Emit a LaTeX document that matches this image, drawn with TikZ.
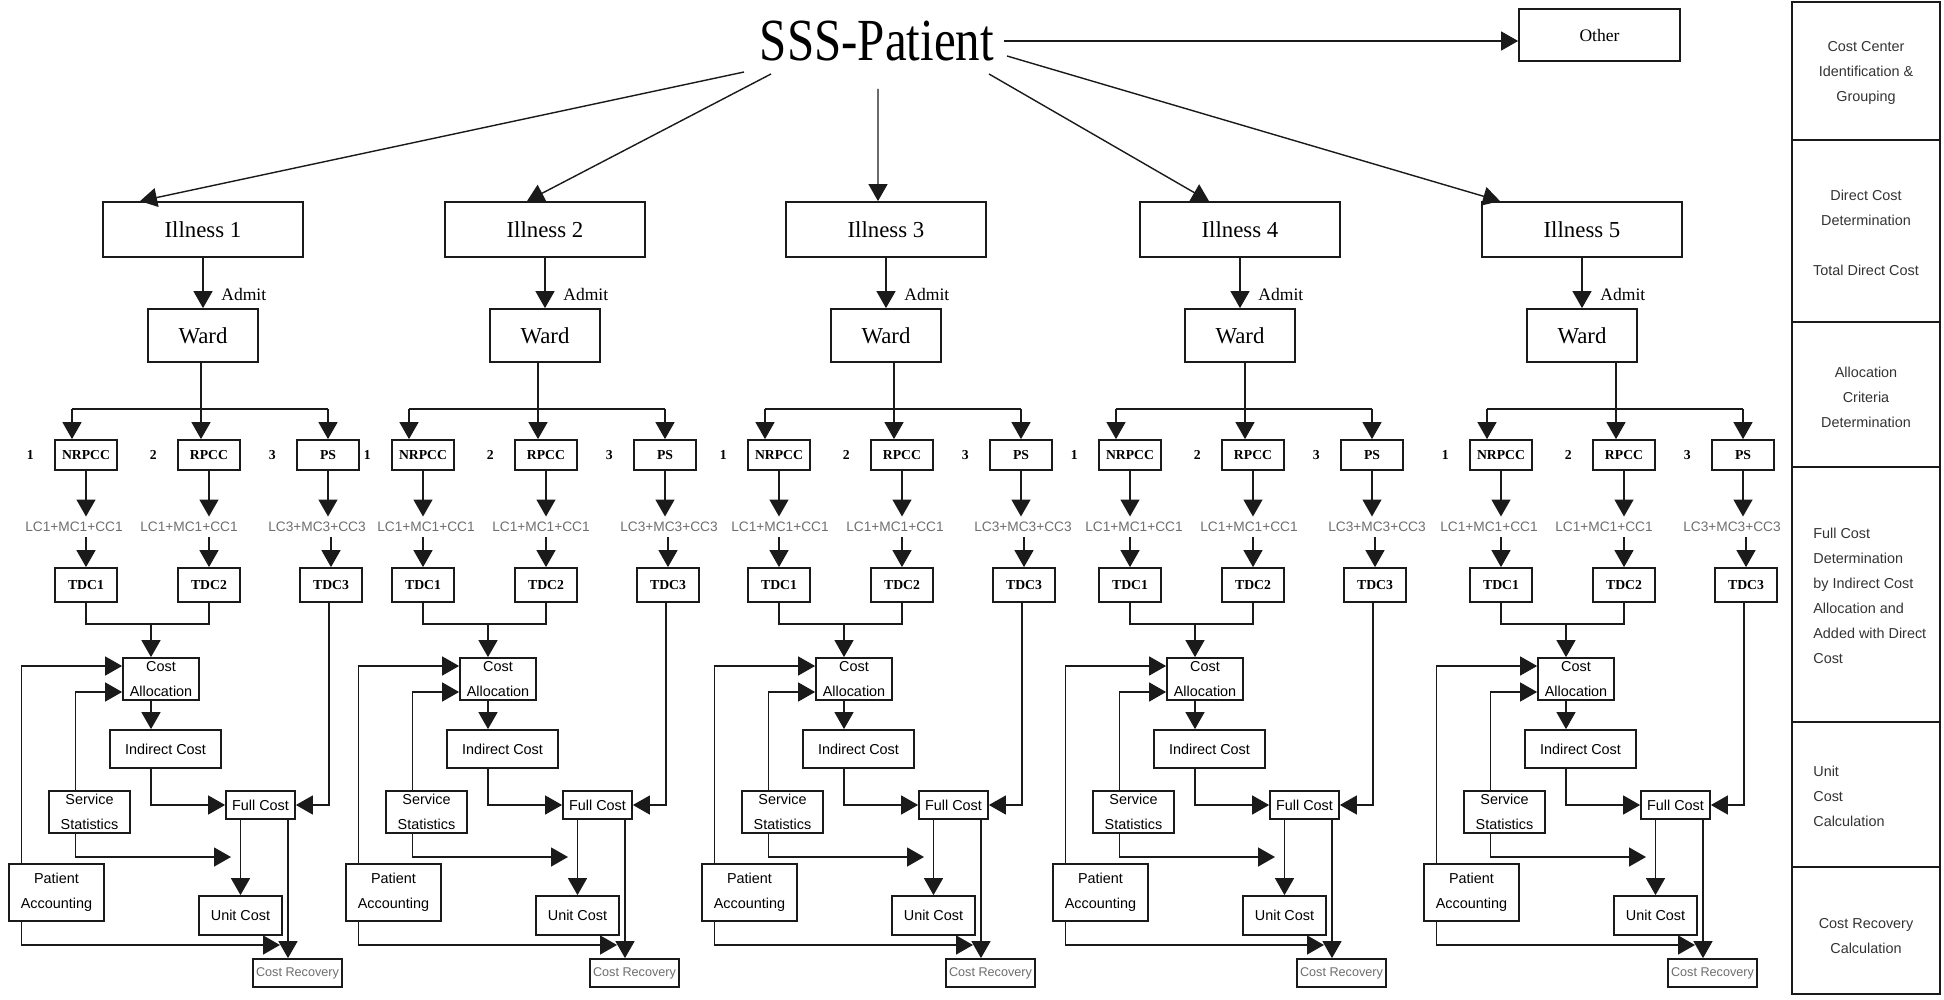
\documentclass[tikz,border=0pt]{standalone}
\usepackage{fontspec}
\setmainfont{Liberation Serif}
\setsansfont{Liberation Sans}
\usepackage{tikz}
\usetikzlibrary{positioning, arrows.meta, calc}
\definecolor{ink}{HTML}{1A1A1A}
\definecolor{faint}{HTML}{6E6E6E}
\definecolor{legendink}{HTML}{333333}
\tikzset{
  illbox/.style   = {rectangle, draw=ink, line width=1pt, fill=white,
                     minimum width=4.0cm, minimum height=1.1cm,
                     font=\fontsize{13}{15}\selectfont},
  wardbox/.style  = {rectangle, draw=ink, line width=1pt, fill=white,
                     minimum width=2.2cm, minimum height=1.06cm,
                     font=\fontsize{13}{15}\selectfont},
  ccbox/.style    = {rectangle, draw=ink, line width=1pt, fill=white,
                     minimum width=1.24cm, minimum height=0.6cm, inner sep=0pt,
                     font=\fontsize{7.8}{9}\selectfont\bfseries},
  tdcbox/.style   = {ccbox, minimum height=0.68cm},
  costbox/.style  = {rectangle, draw=ink, line width=1pt, fill=white,
                     inner sep=0pt, align=center,
                     font=\sffamily\fontsize{8.2}{14}\selectfont},
  cclabel/.style  = {inner sep=0pt, font=\fontsize{7.8}{9}\selectfont\bfseries},
  admitlab/.style = {inner sep=0pt, font=\fontsize{10}{12}\selectfont},
  fmla/.style     = {inner xsep=1pt, inner ysep=3pt, text=faint,
                     font=\sffamily\fontsize{7.8}{9}\selectfont},
  legtxt/.style   = {inner sep=0pt, text=legendink,
                     font=\sffamily\fontsize{8.2}{14.2}\selectfont},
  arr/.style      = {-{Triangle[length=0.34cm,width=0.38cm]}, line width=0.8pt, draw=ink},
  link/.style     = {line width=0.8pt, draw=ink},
}

\begin{document}
\begin{tikzpicture}[x=0.02cm, y=-0.02cm]
  \useasboundingbox (0,0) rectangle (1944,1000);

  % top: patient group
  \node[inner sep=0pt, font=\fontsize{34}{36}\selectfont] (sss) at (877,41)
       {\scalebox{0.82}[1]{SSS-Patient}};
  \node[rectangle, draw=ink, line width=1pt, minimum width=3.22cm, minimum height=1.04cm,
        font=\fontsize{10}{12}\selectfont] (other) at (1599.5,35) {Other};
  \draw[arr] ([xshift=0.2cm]sss.east) -- (sss.east -| other.west);

  % one column per illness
  \foreach \col/\lx/\ux/\fo in {1/86/203/-12, 2/423/545/3, 3/779/886/1, 4/1130/1240/4, 5/1501/1582/-12}{
    % illness and ward
    \node[illbox] (ill\col) at (\ux,229.5) {Illness \col};
    \node[wardbox] (wd\col) at (\ux,335.5) {Ward};
    \node[admitlab, anchor=west] (ad\col) at (\ux+18,294) {Admit};
    \draw[arr] (ill\col.south) -- (wd\col.north);

    % cost centres
    \node[ccbox] (nr\col) at (\lx,455) {NRPCC};
    \node[ccbox] (rp\col) at (\lx+123,455) {RPCC};
    \node[ccbox] (ps\col) at (\lx+242,455) {PS};
    \node[cclabel, left=0.4cm of nr\col] (na\col) {1};
    \node[cclabel, left=0.4cm of rp\col] (nb\col) {2};
    \node[cclabel, left=0.4cm of ps\col] (nc\col) {3};
    \coordinate (bar\col) at (\lx,409);
    \draw[link] ([xshift=-0.28cm]nr\col.north |- bar\col) -- (ps\col.north |- bar\col);
    \draw[arr] ([xshift=-0.28cm]nr\col.north |- bar\col) -- ([xshift=-0.28cm]nr\col.north);
    \draw[arr] ([xshift=-0.16cm]rp\col.north |- wd\col.south) -- ([xshift=-0.16cm]rp\col.north);
    \draw[arr] (ps\col.north |- bar\col) -- (ps\col.north);

    % direct cost
    \node[fmla] (fa\col) at (\lx+\fo,527) {LC1+MC1+CC1};
    \node[fmla] (fb\col) at (\lx+115+\fo,527) {LC1+MC1+CC1};
    \node[fmla] (fc3\col) at (\lx+243+\fo,527) {LC3+MC3+CC3};
    \node[tdcbox] (td1\col) at (\lx,585) {TDC1};
    \node[tdcbox] (td2\col) at (\lx+123,585) {TDC2};
    \node[tdcbox] (td3\col) at (\lx+245,585) {TDC3};
    \draw[arr] (nr\col.south) -- (nr\col.south |- fa\col.north);
    \draw[arr] (rp\col.south) -- (rp\col.south |- fb\col.north);
    \draw[arr] (ps\col.south) -- (ps\col.south |- fc3\col.north);
    \draw[arr] (td1\col.north |- fa\col.south) -- (td1\col.north);
    \draw[arr] (td2\col.north |- fb\col.south) -- (td2\col.north);
    \draw[arr] (td3\col.north |- fc3\col.south) -- (td3\col.north);

    % allocation and full cost
    \coordinate (jn\col) at (\lx+65,624);
    \node[costbox, minimum width=1.52cm, minimum height=0.84cm] (ca\col) at (\lx+75,679) {Cost\\Allocation};
    \node[costbox, minimum width=2.22cm, minimum height=0.76cm] (ic\col) at (\lx+79.5,749) {Indirect Cost};
    \node[costbox, minimum width=1.38cm, minimum height=0.56cm] (fc\col) at (\lx+174.5,805) {Full Cost};
    \node[costbox, minimum width=1.62cm, minimum height=0.84cm] (ss\col) at (\lx+3.5,812) {Service\\Statistics};
    \node[costbox, minimum width=1.9cm, minimum height=1.14cm] (pa\col) at (\lx-29.5,892.5) {Patient\\Accounting};
    \node[costbox, minimum width=1.66cm, minimum height=0.78cm] (uc\col) at (\lx+154.5,915.5) {Unit Cost};
    \node[costbox, minimum width=1.78cm, minimum height=0.56cm, text=faint,
          font=\sffamily\fontsize{7.2}{9}\selectfont] (cr\col) at (\lx+211.5,973) {Cost Recovery};
    \coordinate (sx\col) at (\lx+145,857);
    \coordinate (px\col) at (\lx+194,945);

    \draw[link] (td1\col.south) |- (jn\col) -| (td2\col.south);
    \draw[arr] (jn\col) -- (jn\col |- ca\col.north);
    \draw[arr] (ca\col.south -| jn\col) -- (ic\col.north -| jn\col);
    \draw[arr] (ic\col.south -| jn\col) |- (fc\col.west);
    \draw[arr] ([xshift=-0.04cm]td3\col.south) |- (fc\col.east);
    \draw[arr] ([xshift=-0.28cm]ss\col.north) |- ([yshift=-0.26cm]ca\col.west);
    \draw[arr] ([xshift=-0.7cm]pa\col.north) |- ([yshift=0.26cm]ca\col.west);
    \draw[arr] ([xshift=-0.28cm]ss\col.south) |- (sx\col);
    \draw[arr] (uc\col.north |- fc\col.south) -- (uc\col.north);
    \draw[arr] ([xshift=0.55cm]fc\col.south) -- ([xshift=0.55cm]fc\col.south |- cr\col.north);
    \draw[arr] ([xshift=-0.7cm]pa\col.south) |- (px\col);
  }

  % patient group to illnesses
  \draw[arr] ([shift={(-133,31)}]sss.center) -- ([xshift=-1.26cm]ill1.north);
  \draw[arr] ([shift={(-106,33)}]sss.center) -- ([xshift=-0.36cm]ill2.north);
  \draw[arr] ([shift={(1,48)}]sss.center) -- ([xshift=-0.16cm]ill3.north);
  \draw[arr] ([shift={(112,33)}]sss.center) -- ([xshift=-0.62cm]ill4.north);
  \draw[arr] ([shift={(130,15)}]sss.center) -- ([xshift=-1.64cm]ill5.north);

  % legend of steps
  \draw[link, line width=1pt] (1792,2) rectangle (1940,994);
  \foreach \yy in {140,322,467,722,867}
    \draw[link, line width=1pt] (1792,\yy) -- (1940,\yy);
  \node[legtxt, align=center] (lg1) at (1866,73) {Cost Center\\Identification \&\\Grouping};
  \node[legtxt, align=center] (lg2) at (1866,233) {Direct Cost\\Determination\\[14.2pt]Total Direct Cost};
  \node[legtxt, align=center] (lg3) at (1866,397) {Allocation\\Criteria\\Determination};
  \node[legtxt, align=left, anchor=west] (lg4) at (1813,596)
       {Full Cost\\Determination\\by Indirect Cost\\Allocation and\\Added with Direct\\Cost};
  \node[legtxt, align=left, anchor=west] (lg5) at (1813,796) {Unit\\Cost\\Calculation};
  \node[legtxt, align=center] (lg6) at (1866,936) {Cost Recovery\\Calculation};

\end{tikzpicture}
\end{document}
